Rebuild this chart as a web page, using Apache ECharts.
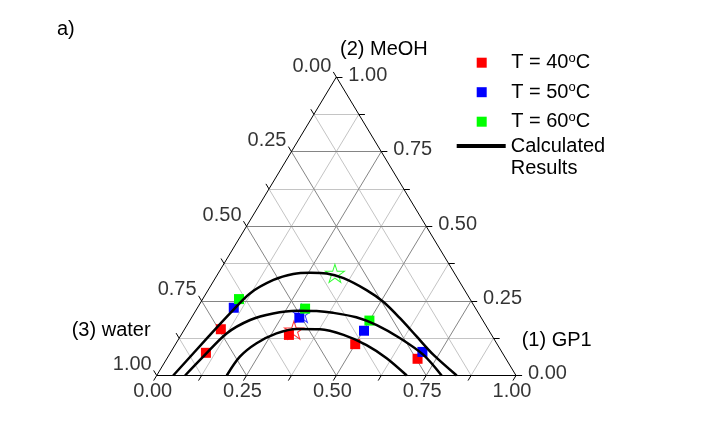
<!DOCTYPE html>
<html>
<head>
<meta charset="utf-8">
<style>
  html, body { margin: 0; padding: 0; background: #fff; }
  #chart { width: 716px; height: 426px; }
</style>
<script src="https://cdn.jsdelivr.net/npm/echarts@6/dist/echarts.min.js"></script>
</head>
<body>
<div id="chart"></div>
<script>
// compositions are [GP1, MeOH] mole fractions, water = 1 - GP1 - MeOH
const exp40 = [[0.099, 0.076], [0.101, 0.155], [0.300, 0.136], [0.500, 0.105], [0.698, 0.056]]
const exp50 = [[0.101, 0.227], [0.300, 0.194], [0.502, 0.150], [0.700, 0.079]]
const exp60 = [[0.101, 0.256], [0.301, 0.224], [0.500, 0.184]]
const plait40 = [[0.306, 0.152]]
const plait50 = [[0.299, 0.208]]
const plait60 = [[0.325, 0.342]]
const calc40 = [[0.195, 0], [0.200, 0.063], [0.224, 0.108], [0.263, 0.141], [0.312, 0.156], [0.377, 0.155],
  [0.452, 0.136], [0.533, 0.102], [0.611, 0.058], [0.696, 0]]
const calc50 = [[0.079, 0], [0.098, 0.063], [0.124, 0.141], [0.167, 0.186], [0.220, 0.208], [0.281, 0.217],
  [0.337, 0.216], [0.386, 0.210], [0.458, 0.195], [0.528, 0.169], [0.615, 0.125], [0.708, 0.069], [0.793, 0]]
const calc60 = [[0.046, 0], [0.079, 0.130], [0.100, 0.208], [0.122, 0.275], [0.165, 0.320], [0.210, 0.340],
  [0.255, 0.344], [0.302, 0.342], [0.357, 0.326], [0.441, 0.286], [0.507, 0.247], [0.581, 0.192],
  [0.659, 0.130], [0.736, 0.069], [0.835, 0]]
const tickValues = [0, 0.25, 0.5, 0.75, 1]
const tickLabels = ['0.00', '0.25', '0.50', '0.75', '1.00']
const gridStep = 0.125

const FONT = '"Liberation Sans", Arial, sans-serif'
const star = 'path://M50,0L61.23,34.55L97.55,34.55L68.17,55.9L79.39,90.45L50,69.1L20.61,90.45L31.83,55.9L2.45,34.55L38.77,34.55Z'

// ternary -> cartesian (x along base, y = MeOH)
const toXY = ([g, m]) => [g + m / 2, m]

const steps = []
for (let i = 0; i * gridStep <= 1 + 1e-9; i++) steps.push(i * gridStep)

const gridDark = []
const gridLight = []
steps.filter(v => v > 0 && v < 1).forEach(v => {
  const target = (v * 4) % 1 === 0 ? gridDark : gridLight
  target.push({ coords: [toXY([0, v]), toXY([1 - v, v])] })
  target.push({ coords: [toXY([v, 0]), toXY([v, 1 - v])] })
  target.push({ coords: [toXY([1 - v, 0]), toXY([0, 1 - v])] })
})
const frame = [[[0, 0], [1, 0]], [[1, 0], [0, 1]], [[0, 1], [0, 0]]].map(s => ({ coords: s.map(toXY) }))
const tickLen = 0.017
const ticks = []
steps.forEach(v => {
  ticks.push({ coords: [toXY([1 - v, v]), toXY([1 - v + tickLen, v])] })
  ticks.push({ coords: [toXY([0, 1 - v]), toXY([-tickLen, 1 - v + tickLen])] })
  ticks.push({ coords: [toXY([v, 0]), toXY([v, -tickLen])] })
})

function linesSeries(data, color) {
  return {
    type: 'lines', coordinateSystem: 'cartesian2d', silent: true, clip: false,
    data, lineStyle: { color, width: 1, opacity: 1 }
  }
}
function labelSeries(points, label) {
  return {
    type: 'scatter', symbol: 'circle', symbolSize: 0, silent: true, clip: false,
    data: points,
    label: { show: true, formatter: '{b}', color: '#000', fontSize: 20, fontFamily: FONT, ...label }
  }
}
function curve(data) {
  return {
    name: 'Calculated Results', type: 'line', data: data.map(toXY), smooth: 0.3,
    symbol: 'none', silent: true, lineStyle: { color: '#000', width: 2.5 }, itemStyle: { color: '#000' }
  }
}
function squares(name, data, color) {
  return {
    name, type: 'scatter', data: data.map(toXY), symbol: 'rect', symbolSize: 10,
    silent: true, itemStyle: { color, opacity: 1 }
  }
}
function stars(data, color) {
  return {
    type: 'scatter', data: data.map(toXY), symbol: star, symbolSize: [19, 18], silent: true,
    itemStyle: { color: 'rgba(0,0,0,0)', borderColor: color, borderWidth: 1 }
  }
}

const chart = echarts.init(document.getElementById('chart'))
chart.setOption({
  animation: false,
  backgroundColor: '#fff',
  textStyle: { fontFamily: FONT },
  grid: { left: 156.7, top: 77, width: 359.3, height: 298.5 },
  xAxis: { type: 'value', min: 0, max: 1, show: false },
  yAxis: { type: 'value', min: 0, max: 1, show: false },
  legend: [
    {
      // the square sits centred in a 49px slot; layout starts at the square itself
      orient: 'vertical', left: 476.7, top: 51.7, padding: 0, itemWidth: 49, itemHeight: 10, itemGap: 7.5,
      selectedMode: false, icon: 'path://M0,0L10,0L10,10L0,10Z', symbolKeepAspect: true,
      data: ['T = 40°C', 'T = 50°C', 'T = 60°C'],
      formatter: n => n.replace('°', '{sup|o}'),
      textStyle: {
        fontSize: 20, lineHeight: 22, color: '#000', fontFamily: FONT,
        rich: { sup: { fontSize: 13, lineHeight: 22, verticalAlign: 'top', color: '#000', fontFamily: FONT } }
      }
    },
    {
      orient: 'vertical', left: 456.7, top: 113, padding: 0, itemWidth: 49, itemHeight: 4,
      selectedMode: false, icon: 'rect',
      data: ['Calculated Results'],
      formatter: () => '\nCalculated\nResults',
      textStyle: { fontSize: 20, lineHeight: 22, color: '#000', fontFamily: FONT }
    }
  ],
  graphic: [
    { type: 'text', left: 57, top: 19, style: { text: 'a)', font: '20px ' + FONT, fill: '#000' } },
    { type: 'text', left: 340, top: 39, style: { text: '(2) MeOH', font: '20px ' + FONT, fill: '#000' } },
    { type: 'text', left: 71.7, top: 320, style: { text: '(3) water', font: '20px ' + FONT, fill: '#000' } },
    { type: 'text', left: 521.7, top: 330, style: { text: '(1) GP1', font: '20px ' + FONT, fill: '#000' } }
  ],
  series: [
    linesSeries(gridLight, '#c4c4c4'),
    linesSeries(gridDark, '#858585'),
    linesSeries(frame, '#000'),
    linesSeries(ticks, '#000'),
    labelSeries(tickValues.map((v, i) => ({ name: tickLabels[i], value: toXY([1 - v, v]) })),
      { position: 'right', distance: 12, offset: [0, -2] }),
    labelSeries(tickValues.map((v, i) => ({ name: tickLabels[i], value: toXY([0, 1 - v]) })),
      { position: 'left', distance: 5, offset: [0, -11] }),
    labelSeries(tickValues.map((v, i) => ({ name: tickLabels[i], value: toXY([v, 0]) })),
      { position: 'bottom', distance: 6, offset: [-4, 0] }),
    curve(calc40),
    curve(calc50),
    curve(calc60),
    stars(plait40, '#ff0000'),
    stars(plait50, '#0000ff'),
    stars(plait60, '#00ff00'),
    squares('T = 40°C', exp40, '#ff0000'),
    squares('T = 50°C', exp50, '#0000ff'),
    squares('T = 60°C', exp60, '#00ff00')
  ]
})
</script>
</body>
</html>
